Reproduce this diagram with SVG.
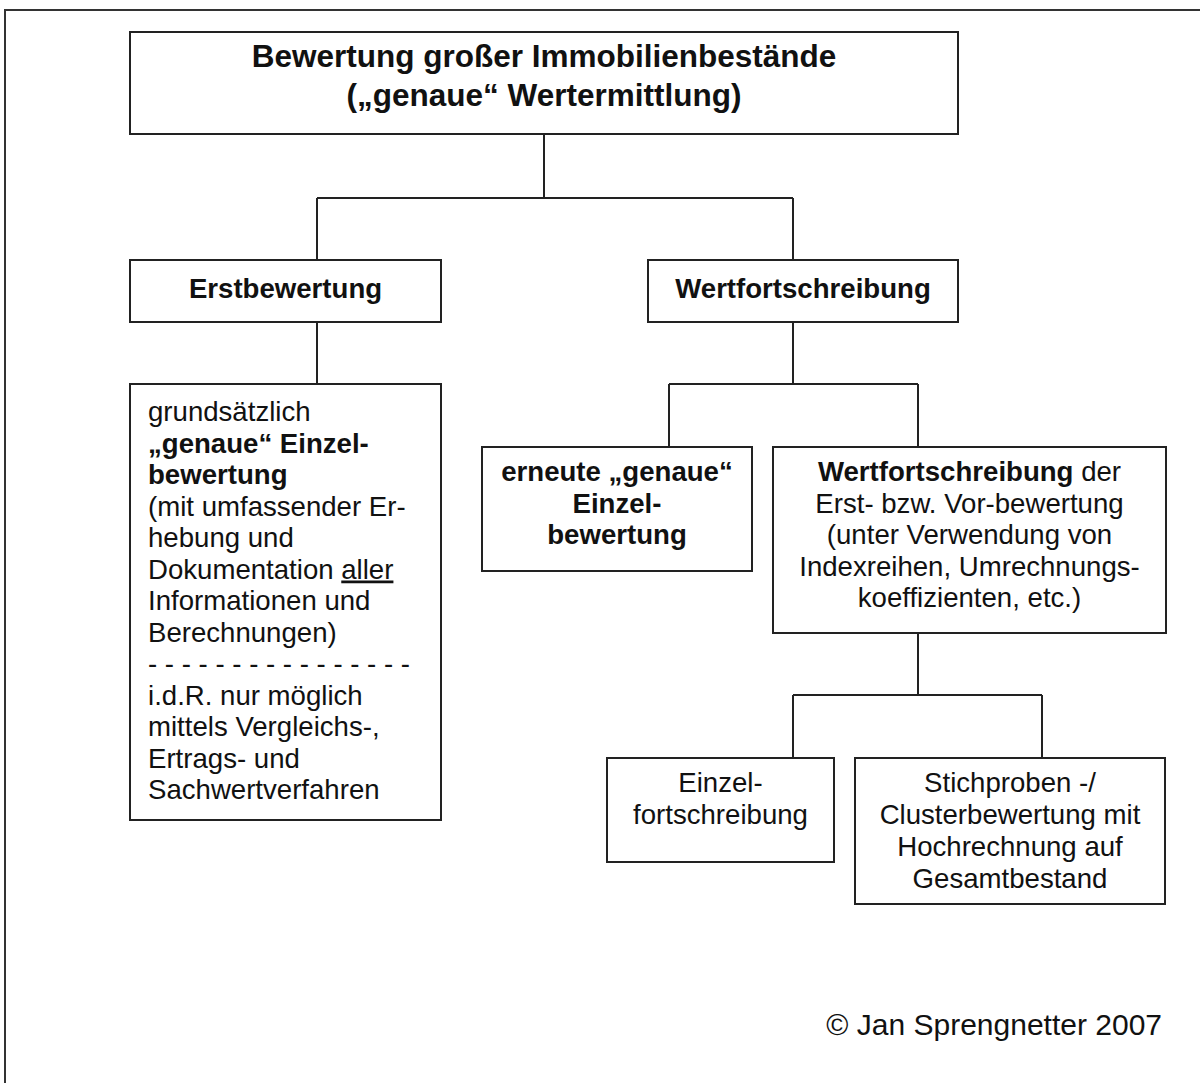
<svg xmlns="http://www.w3.org/2000/svg" width="1200" height="1083" viewBox="0 0 1200 1083">
<style>
.box{fill:#fff;stroke:#222;stroke-width:2}
.ln{fill:none;stroke:#222;stroke-width:2}
text{font-family:"Liberation Sans",Arial,Helvetica,sans-serif;font-size:27.6px;fill:#111}
.b{font-weight:bold}
.c{text-anchor:middle}
.t{font-size:31.5px;font-weight:bold}
</style>
<rect x="0" y="0" width="1200" height="1083" fill="#fff"/>
<rect id="frame" x="5" y="10" width="1300" height="1200" fill="none" stroke="#333" stroke-width="2"/>
<g id="connectors">
<path class="ln" d="M544 134V198M317 198H793M317 198V261M793 198V261"/>
<path class="ln" d="M317 322V384"/>
<path class="ln" d="M793 322V384M669 384H918M669 384V447M918 384V447"/>
<path class="ln" d="M918 633V695M793 695H1042M793 695V758M1042 695V758"/>
</g>
<g id="n-root">
<rect class="box" x="130" y="32" width="828" height="102"/>
<text class="t c" x="544" y="67">Bewertung großer Immobilienbestände</text>
<text class="t c" x="544" y="106">(„genaue“ Wertermittlung)</text>
</g>
<g id="n-erst">
<rect class="box" x="130" y="260" width="311" height="62"/>
<text class="b c" x="285.5" y="298">Erstbewertung</text>
</g>
<g id="n-wert">
<rect class="box" x="648" y="260" width="310" height="62"/>
<text class="b c" x="803" y="298">Wertfortschreibung</text>
</g>
<g id="n-einzel-erst">
<rect class="box" x="130" y="384" width="311" height="436"/>
<text x="148" y="421">grundsätzlich</text>
<text class="b" x="148" y="452.5">„genaue“ Einzel-</text>
<text class="b" x="148" y="484">bewertung</text>
<text x="148" y="515.5">(mit umfassender Er-</text>
<text x="148" y="547">hebung und</text>
<text x="148" y="578.5">Dokumentation <tspan text-decoration="underline">aller</tspan></text>
<text x="148" y="610">Informationen und</text>
<text x="148" y="641.5">Berechnungen)</text>
<text x="148" y="673">- - - - - - - - - - - - - - - -</text>
<text x="148" y="704.5">i.d.R. nur möglich</text>
<text x="148" y="736">mittels Vergleichs-,</text>
<text x="148" y="767.5">Ertrags- und</text>
<text x="148" y="799">Sachwertverfahren</text>
</g>
<g id="n-erneut">
<rect class="box" x="482" y="447" width="270" height="124"/>
<text class="b c" x="617" y="481">erneute „genaue“</text>
<text class="b c" x="617" y="512.5">Einzel-</text>
<text class="b c" x="617" y="544">bewertung</text>
</g>
<g id="n-fort">
<rect class="box" x="773" y="447" width="393" height="186"/>
<text class="c" x="969.5" y="481"><tspan class="b">Wertfortschreibung</tspan> der</text>
<text class="c" x="969.5" y="512.5">Erst- bzw. Vor-bewertung</text>
<text class="c" x="969.5" y="544">(unter Verwendung von</text>
<text class="c" x="969.5" y="575.5">Indexreihen, Umrechnungs-</text>
<text class="c" x="969.5" y="607">koeffizienten, etc.)</text>
</g>
<g id="n-einzelfort">
<rect class="box" x="607" y="758" width="227" height="104"/>
<text class="c" x="720.5" y="792">Einzel-</text>
<text class="c" x="720.5" y="824">fortschreibung</text>
</g>
<g id="n-stich">
<rect class="box" x="855" y="758" width="310" height="146"/>
<text class="c" x="1010" y="792">Stichproben -/</text>
<text class="c" x="1010" y="824">Clusterbewertung mit</text>
<text class="c" x="1010" y="856">Hochrechnung auf</text>
<text class="c" x="1010" y="888">Gesamtbestand</text>
</g>
<text id="copyright" x="1162" y="1035" style="text-anchor:end;font-size:30px">© Jan Sprengnetter 2007</text>
</svg>
